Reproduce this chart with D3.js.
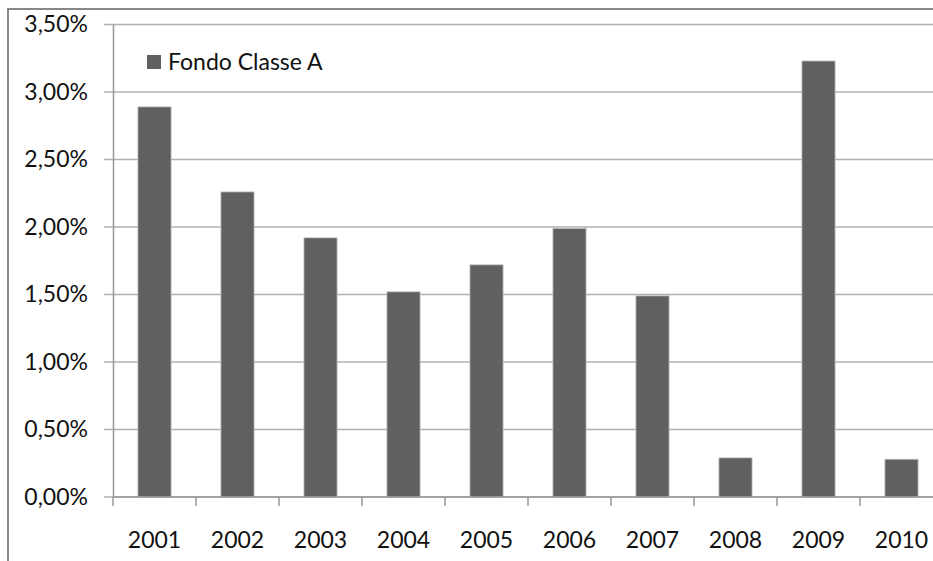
<!DOCTYPE html>
<html><head><meta charset="utf-8">
<script src="https://cdn.jsdelivr.net/npm/d3@7"></script>
<style>html,body{margin:0;padding:0;background:#fff;}svg{display:block;}</style>
</head><body>
<svg id="c" width="933" height="561"></svg>
<script>
const categories = ["2001","2002","2003","2004","2005","2006","2007","2008","2009","2010"];
const values = [2.89, 2.26, 1.92, 1.52, 1.72, 1.99, 1.49, 0.29, 3.23, 0.28];
const yTicks = [0, 0.5, 1, 1.5, 2, 2.5, 3, 3.5];
const seriesName = "Fondo Classe A";

const svg = d3.select("#c");
const font = "Lato, 'Open Sans', sans-serif";
const fs = 23;
const m = {left: 113, top: 24.5, right: 943, bottom: 497};

// outer frame
svg.append("line").attr("x1", 8).attr("x2", 933).attr("y1", 9).attr("y2", 9).attr("stroke", "#888").attr("stroke-width", 2);
svg.append("line").attr("x1", 8).attr("x2", 8).attr("y1", 8).attr("y2", 561).attr("stroke", "#888").attr("stroke-width", 2);

const x = d3.scaleBand().domain(categories).range([m.left, m.right]).paddingInner(0.6).paddingOuter(0.3);
const y = d3.scaleLinear().domain([0, 3.5]).range([m.bottom, m.top]);

// gridlines
svg.append("g").selectAll("line").data(yTicks).join("line")
  .attr("x1", 104).attr("x2", 933).attr("y1", d => y(d)).attr("y2", d => y(d))
  .attr("stroke", "#b0b0b0").attr("stroke-width", 1.5);

// bars
svg.append("g").selectAll("rect").data(values).join("rect")
  .attr("x", (d, i) => x(categories[i]))
  .attr("width", x.bandwidth())
  .attr("y", d => y(d))
  .attr("height", d => y(0) - y(d))
  .attr("fill", "#606060").attr("stroke", "#c8c8c8").attr("stroke-width", 0.8);

// y axis
const yAxis = d3.axisLeft(y).tickValues(yTicks).tickSize(0).tickPadding(25)
  .tickFormat(d => d.toFixed(2).replace(".", ",") + "%");
const gy = svg.append("g").attr("transform", `translate(${m.left},0)`).call(yAxis);
gy.select(".domain").attr("stroke", "#999").attr("stroke-width", 1.5);
gy.selectAll("text").attr("font-family", font).attr("font-size", fs).attr("fill", "#111");

// x axis
const xBounds = d3.scaleLinear().domain([0, categories.length]).range([m.left, m.right]);
const gx = svg.append("g");
gx.append("line").attr("x1", m.left).attr("x2", 933).attr("y1", m.bottom).attr("y2", m.bottom).attr("stroke", "#999").attr("stroke-width", 1.5);
gx.selectAll("line.t").data(d3.range(categories.length + 1)).join("line").attr("class", "t")
  .attr("x1", d => xBounds(d)).attr("x2", d => xBounds(d)).attr("y1", m.bottom).attr("y2", m.bottom + 9)
  .attr("stroke", "#999").attr("stroke-width", 1.5);
gx.selectAll("text").data(categories).join("text")
  .attr("x", d => x(d) + x.bandwidth() / 2).attr("y", 548)
  .attr("text-anchor", "middle").attr("font-family", font).attr("font-size", fs).attr("fill", "#111")
  .text(d => d);

// legend
svg.append("rect").attr("x", 147).attr("y", 55).attr("width", 14).attr("height", 14).attr("fill", "#606060");
svg.append("text").attr("x", 168).attr("y", 70).attr("font-family", font).attr("font-size", fs).attr("fill", "#111").text(seriesName);
</script>
</body></html>
